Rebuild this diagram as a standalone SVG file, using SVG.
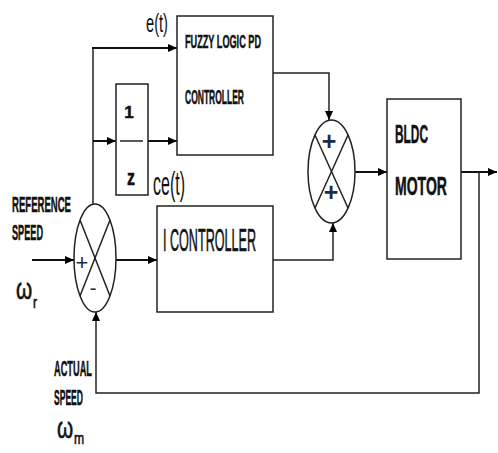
<svg xmlns="http://www.w3.org/2000/svg" width="498" height="453" viewBox="0 0 498 453">
<defs>
<marker id="arr" markerUnits="userSpaceOnUse" markerWidth="9" markerHeight="8" refX="9" refY="4" orient="auto">
<path d="M0,0 L9,4 L0,8 Z" fill="#000"/>
</marker>
<style>
.box{fill:#fff;stroke:#222;stroke-width:1.5}
.ln{fill:none;stroke:#222;stroke-width:1.5}
.thk{fill:none;stroke:#111;stroke-width:2}
.t{font-family:"Liberation Sans",Arial,sans-serif;fill:#111}
.b{font-weight:bold;stroke:#111;stroke-width:0.5}
.m{stroke:#111;stroke-width:0.6}
.sg{font-family:"Liberation Sans",Arial,sans-serif;fill:#1c2a4a;text-anchor:middle}
</style>
</defs>
<rect width="498" height="453" fill="#fff"/>

<g id="connectors">
<path class="thk" d="M32,260 H74" marker-end="url(#arr)"/>
<path class="ln" d="M93,205 V48"/>
<path class="thk" d="M92,48 H177" marker-end="url(#arr)"/>
<path class="thk" d="M93,141 H116" marker-end="url(#arr)"/>
<path class="thk" d="M148,141 H177" marker-end="url(#arr)"/>
<path class="thk" d="M116,260 H157" marker-end="url(#arr)"/>
<path class="ln" d="M273,73 H329 V120" marker-end="url(#arr)"/>
<path class="ln" d="M273,260 H333 V223" marker-end="url(#arr)"/>
<path class="thk" d="M355,172 H387" marker-end="url(#arr)"/>
<path class="thk" d="M461,172 H497" marker-end="url(#arr)"/>
<path class="ln" d="M479,172 V393 H96 V312" marker-end="url(#arr)"/>
</g>

<g id="fuzzy">
<rect class="box" x="177" y="16" width="96" height="139"/>
<text class="t b" x="185" y="48" font-size="19" textLength="76" lengthAdjust="spacingAndGlyphs">FUZZY LOGIC  PD</text>
<text class="t b" x="185" y="104" font-size="20" textLength="59" lengthAdjust="spacingAndGlyphs">CONTROLLER</text>
</g>

<g id="delay">
<rect class="box" x="116" y="84" width="32" height="111"/>
<line class="ln" x1="120" y1="141" x2="143" y2="141"/>
<text class="t b" x="129" y="118" font-size="17" text-anchor="middle">1</text>
<text class="t b" x="131" y="185" font-size="22" text-anchor="middle" textLength="8" lengthAdjust="spacingAndGlyphs">z</text>
</g>

<g id="sum1">
<ellipse class="box" cx="95" cy="258" rx="21" ry="54"/>
<line class="ln" x1="80" y1="220" x2="110" y2="296"/>
<line class="ln" x1="110" y1="220" x2="80" y2="296"/>
<text class="sg" x="82" y="270" font-size="22">+</text>
<text class="sg" x="93" y="295" font-size="20">-</text>
</g>

<g id="icontroller">
<rect class="box" x="157" y="206" width="116" height="106"/>
<text class="t m" x="163" y="251" font-size="31" textLength="93" lengthAdjust="spacingAndGlyphs">I CONTROLLER</text>
</g>

<g id="sum2">
<ellipse class="box" cx="331.5" cy="171.5" rx="23.5" ry="51.5"/>
<line class="ln" x1="315" y1="135" x2="348" y2="208"/>
<line class="ln" x1="348" y1="135" x2="315" y2="208"/>
<text class="sg" x="329" y="150" font-size="25" font-weight="bold">+</text>
<text class="sg" x="331" y="201" font-size="25" font-weight="bold">+</text>
</g>

<g id="motor">
<rect class="box" x="387" y="99" width="74" height="160"/>
<text class="t b" x="395" y="143" font-size="26" textLength="33" lengthAdjust="spacingAndGlyphs">BLDC</text>
<text class="t b" x="395" y="195" font-size="26" textLength="52" lengthAdjust="spacingAndGlyphs">MOTOR</text>
</g>

<g id="labels">
<text class="t" x="146" y="32" font-size="25" textLength="22" lengthAdjust="spacingAndGlyphs">e(t)</text>
<text class="t" x="153" y="195" font-size="33" textLength="32" lengthAdjust="spacingAndGlyphs">ce(t)</text>
<text class="t b" x="12" y="212" font-size="22" textLength="59" lengthAdjust="spacingAndGlyphs">REFERENCE</text>
<text class="t b" x="12" y="240" font-size="22" textLength="31" lengthAdjust="spacingAndGlyphs">SPEED</text>
<text class="t m" x="16" y="299" font-size="29" textLength="21" lengthAdjust="spacingAndGlyphs">ω<tspan font-size="17" dx="1" dy="9">r</tspan></text>
<text class="t b" x="54" y="376" font-size="22" textLength="38" lengthAdjust="spacingAndGlyphs">ACTUAL</text>
<text class="t b" x="54" y="405" font-size="22" textLength="29" lengthAdjust="spacingAndGlyphs">SPEED</text>
<text class="t m" x="57" y="438" font-size="29" textLength="27" lengthAdjust="spacingAndGlyphs">ω<tspan font-size="17" dx="1" dy="6">m</tspan></text>
</g>
</svg>
